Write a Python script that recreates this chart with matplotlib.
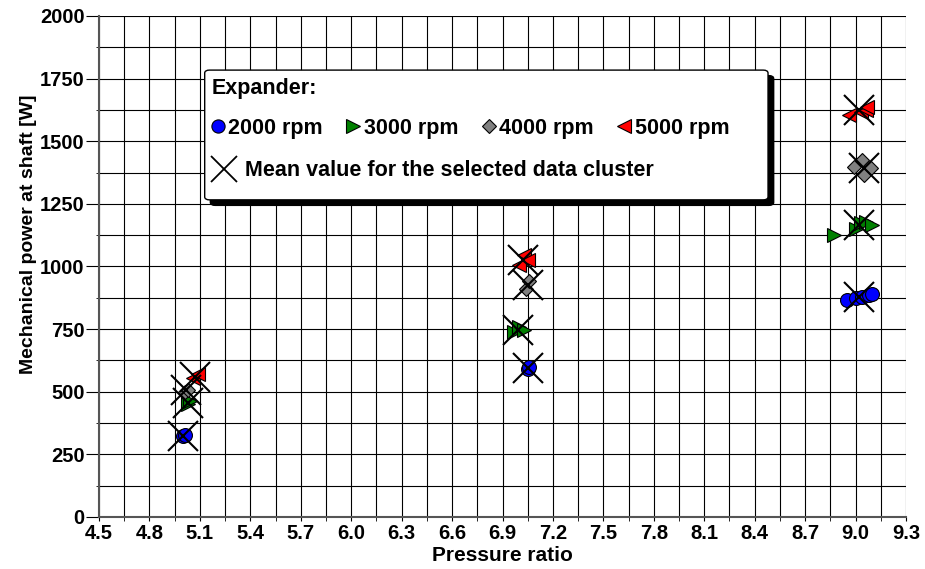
import matplotlib
matplotlib.use("Agg")
import matplotlib.pyplot as plt
from matplotlib.lines import Line2D
from matplotlib.patches import FancyBboxPatch
from matplotlib.ticker import MultipleLocator, FormatStrFormatter

plt.rcParams['font.family'] = ['Liberation Sans', 'DejaVu Sans']
plt.rcParams['font.weight'] = 'bold'

# measured points per expander speed (pressure ratio, shaft power W)
x_2000 = [5.00, 5.01, 7.05, 7.06, 8.95, 9.00, 9.04, 9.08, 9.10]
y_2000 = [322, 326, 592, 598, 866, 875, 880, 885, 890]

x_3000 = [5.03, 5.04, 6.97, 7.00, 7.03, 8.87, 9.00, 9.03, 9.06, 9.10]
y_3000 = [452, 462, 740, 760, 745, 1125, 1150, 1172, 1178, 1165]

x_4000 = [5.01, 5.03, 7.04, 7.06, 8.99, 9.04, 9.05, 9.09]
y_4000 = [498, 508, 912, 942, 1397, 1425, 1365, 1393]

x_5000 = [5.06, 5.09, 7.00, 7.03, 7.05, 8.96, 9.03, 9.06, 9.07]
y_5000 = [555, 572, 1005, 1046, 1025, 1605, 1615, 1625, 1635]

# cluster means
mean_x = [5.00, 5.03, 5.02, 5.07, 7.05, 6.99, 7.05, 7.02, 9.02, 9.02, 9.05, 9.02]
mean_y = [323, 455, 505, 560, 595, 747, 926, 1026, 878, 1166, 1393, 1625]

speeds = ['2000 rpm', '3000 rpm', '4000 rpm', '5000 rpm']

fig = plt.figure(figsize=(9.25, 5.69), dpi=100)
ax = fig.add_axes([0.107, 0.0914, 0.8725, 0.8805])

ms = 10
ax.plot(x_2000, y_2000, 'o', ms=ms, mfc='#0000ff', mec='black', mew=0.8, ls='none', zorder=3)
ax.plot(x_3000, y_3000, '>', ms=ms, mfc='#008000', mec='black', mew=0.8, ls='none', zorder=3)
ax.plot(x_4000, y_4000, 'D', ms=7, mfc='#808080', mec='black', mew=0.8, ls='none', zorder=3)
ax.plot(x_5000, y_5000, '<', ms=ms, mfc='#ff0000', mec='black', mew=0.8, ls='none', zorder=3)
ax.plot(mean_x, mean_y, 'x', ms=21, mec='black', mew=1.5, ls='none', zorder=4)

ax.set_xlim(4.5, 9.3)
ax.set_ylim(0, 2000)
ax.xaxis.set_major_locator(MultipleLocator(0.3))
ax.xaxis.set_minor_locator(MultipleLocator(0.15))
ax.yaxis.set_major_locator(MultipleLocator(250))
ax.yaxis.set_minor_locator(MultipleLocator(125))
ax.xaxis.set_major_formatter(FormatStrFormatter('%.1f'))
ax.grid(True, which='both', color='black', lw=0.8)
ax.set_axisbelow(True)
ax.tick_params(axis='x', which='both', direction='out', length=3, labelsize=14.5, pad=2)
ax.tick_params(axis='y', which='major', direction='out', length=9.4, labelsize=14.5, pad=1)
ax.tick_params(axis='y', which='minor', direction='out', length=2.5)
for s in ['top', 'right']:
    ax.spines[s].set_visible(False)
for s in ['left', 'bottom']:
    ax.spines[s].set_color('#555555')
    ax.spines[s].set_linewidth(1.5)

ax.set_xlabel('Pressure ratio', fontsize=15, fontweight='bold', labelpad=2)
ax.set_ylabel('Mechanical power at shaft [W]', fontsize=14, fontweight='bold')
ax.yaxis.set_label_coords(-0.077, 0.565)

# legend box with shadow
bx, by, bw, bh = 0.131, 0.633, 0.698, 0.259
shadow = FancyBboxPatch((bx + 0.007, by - 0.011), bw, bh, boxstyle='round,pad=0,rounding_size=0.006',
                        transform=ax.transAxes, fc='black', ec='black', zorder=5, clip_on=False)
box = FancyBboxPatch((bx, by), bw, bh, boxstyle='round,pad=0,rounding_size=0.006',
                     transform=ax.transAxes, fc='white', ec='black', lw=1.0, zorder=6, clip_on=False)
ax.add_patch(shadow)
ax.add_patch(box)

h1 = [Line2D([], [], marker='o', ls='none', ms=9.5, mfc='#0000ff', mec='black', mew=0.8),
      Line2D([], [], marker='>', ls='none', ms=10, mfc='#008000', mec='black', mew=0.8),
      Line2D([], [], marker='D', ls='none', ms=7, mfc='#808080', mec='black', mew=0.8),
      Line2D([], [], marker='<', ls='none', ms=10, mfc='#ff0000', mec='black', mew=0.8)]
leg1 = ax.legend(h1, speeds, ncol=4, loc='upper left', bbox_to_anchor=(bx, by + bh - 0.002),
                 frameon=False, title='Expander:', alignment='left', handlelength=0.6,
                 handletextpad=0.2, columnspacing=1.1, borderpad=0.3, borderaxespad=0,
                 prop={'size': 15.5, 'weight': 'bold'},
                 title_fontproperties={'size': 15.5, 'weight': 'bold'})
leg1.set_zorder(7)
leg1._legend_box.sep = 14
ax.add_artist(leg1)

h2 = [Line2D([], [], marker='x', ls='none', ms=19, mec='black', mew=1.3)]
leg2 = ax.legend(h2, ['Mean value for the selected data cluster'], loc='center left',
                 bbox_to_anchor=(bx, (517 - 171) / 501), frameon=False, handlelength=1.2,
                 handletextpad=0.35, borderpad=0.3, borderaxespad=0,
                 prop={'size': 15.5, 'weight': 'bold'})
leg2.set_zorder(7)

fig.savefig('out.png', dpi=100)
